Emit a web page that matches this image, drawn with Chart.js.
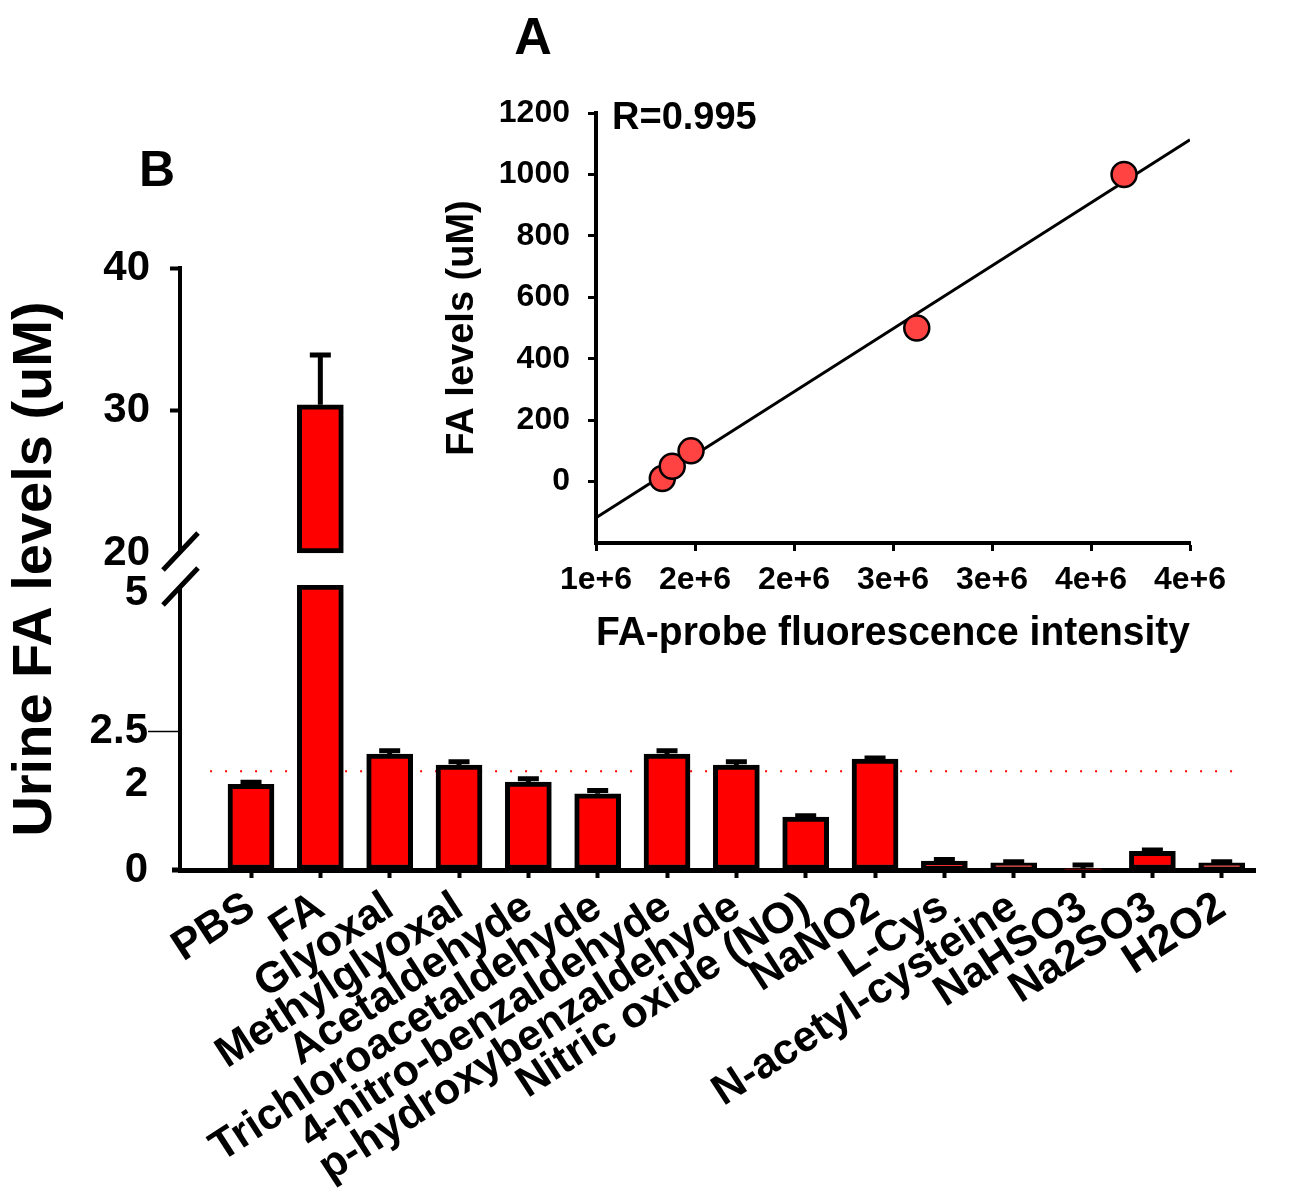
<!DOCTYPE html>
<html>
<head>
<meta charset="utf-8">
<title>Urine FA levels</title>
<script src="https://cdn.jsdelivr.net/npm/chart.js@4.4.1/dist/chart.umd.min.js"></script>
<style>
  html, body { margin: 0; padding: 0; background: #fff; }
  #wrap { position: relative; width: 1292px; height: 1198px; }
  #wrap canvas { position: absolute; left: 0; top: 0; }
</style>
</head>
<body>
<div id="wrap">
  <canvas id="chartB" width="1292" height="1198"></canvas>
  <canvas id="chartA" width="1292" height="1198"></canvas>
</div>
<script>
// panel B: urine FA per compound
var compounds = ['PBS', 'FA', 'Glyoxal', 'Methylglyoxal', 'Acetaldehyde', 'Trichloroacetaldehyde',
  '4-nitro-benzaldehyde', 'p-hydroxybenzaldehyde', 'Nitric oxide (NO)', 'NaNO2', 'L-Cys',
  'N-acetyl-cysteine', 'NaHSO3', 'Na2SO3', 'H2O2'];
var faLevels = [1.55, 30.4, 2.10, 1.90, 1.59, 1.38, 2.10, 1.90, 0.96, 2.01, 0.16, 0.13, 0.02, 0.34, 0.13];
var faErrors = [0.04, 3.5, 0.06, 0.06, 0.06, 0.06, 0.06, 0.06, 0.02, 0.02, 0.03, 0.02, 0.07, 0.02, 0.02];
var lowTicks = [0, 2, 2.5, 5];
var highTicks = [20, 30, 40];
var cutoff = 1.79;

// panel A: calibration against the probe
var probeIntensity = [1.335e6, 1.385e6, 1.48e6, 2.62e6, 3.667e6];
var faKnown = [10, 50, 100, 500, 1000];
var fitIntensity = [1.0e6, 4.0e6];
var fitLevels = [-118, 1113];
var intensityTicks = [1.0e6, 1.5e6, 2.0e6, 2.5e6, 3.0e6, 3.5e6, 4.0e6];
var intensityTickLabels = ['1e+6', '2e+6', '2e+6', '3e+6', '3e+6', '4e+6', '4e+6'];
var levelTicks = [0, 200, 400, 600, 800, 1000, 1200];

var FONT = "'Liberation Sans', Arial, sans-serif";
Chart.defaults.font.family = FONT;
Chart.defaults.color = '#000';

// broken axis limits
var LOW_MAX = 5.16, HIGH_MIN = 17.75, HIGH_MAX = 40, BREAK_AT = 20;

var lowerBars = faLevels.map(function (v, i) { return { x: i, y: Math.min(v, LOW_MAX) }; });
var upperBars = [];
faLevels.forEach(function (v, i) {
  if (v > LOW_MAX) upperBars.push({ x: i, y: [BREAK_AT, v] });
});

function fixedTicks(list) {
  return function (scale) { scale.ticks = list.map(function (v) { return { value: v }; }); };
}

var barExtras = {
  id: 'barExtras',
  afterDatasetsDraw: function (chart) {
    var ctx = chart.ctx, area = chart.chartArea;
    var hi = chart.scales.yHigh, lo = chart.scales.yLow, xs = chart.scales.x;
    ctx.save();
    ctx.strokeStyle = '#000';
    // error bars
    ctx.lineWidth = 5;
    faLevels.forEach(function (v, i) {
      var s = v > LOW_MAX ? hi : lo;
      var px = xs.getPixelForValue(i);
      var y0 = s.getPixelForValue(v);
      var y1 = s.getPixelForValue(v + faErrors[i]);
      ctx.beginPath();
      ctx.moveTo(px, y0);
      ctx.lineTo(px, y1);
      ctx.moveTo(px - 10.5, y1);
      ctx.lineTo(px + 10.5, y1);
      ctx.stroke();
    });
    // y axis with a break
    var ax = area.left;
    var yBreakHi = hi.getPixelForValue(BREAK_AT) - 1;
    var yBreakLo = lo.top + 2;
    ctx.lineWidth = 4;
    ctx.beginPath();
    ctx.moveTo(ax, hi.getPixelForValue(HIGH_MAX) - 2);
    ctx.lineTo(ax, yBreakHi);
    ctx.moveTo(ax, yBreakLo);
    ctx.lineTo(ax, area.bottom);
    ctx.stroke();
    ctx.lineWidth = 5;
    ctx.beginPath();
    ctx.moveTo(ax - 8, area.bottom);
    ctx.lineTo(ax, area.bottom);
    [yBreakHi, yBreakLo].forEach(function (yy) {
      ctx.moveTo(ax - 17, yy + 18);
      ctx.lineTo(ax + 18, yy - 19);
    });
    ctx.stroke();
    ctx.restore();
  },
  afterDraw: function (chart) {
    var ctx = chart.ctx;
    ctx.save();
    ctx.fillStyle = '#000';
    ctx.font = 'bold 50px ' + FONT;
    ctx.textAlign = 'center';
    ctx.textBaseline = 'middle';
    ctx.fillText('B', 157, 172);
    ctx.restore();
  }
};

var tickFontB = { size: 42, weight: 'bold' };

// the "2" label sits a little under its tick in the original figure
function lowLabel(v) { return v === 2 ? ['', '2'] : String(v); }

new Chart(document.getElementById('chartB'), {
  type: 'bar',
  data: {
    datasets: [
      { label: 'Urine FA', data: lowerBars, yAxisID: 'yLow' },
      { label: 'Urine FA (upper)', data: upperBars, yAxisID: 'yHigh' },
      {
        type: 'line', label: 'cut-off', yAxisID: 'yLow',
        data: [{ x: -0.59, y: cutoff }, { x: 14.3, y: cutoff }],
        borderColor: '#ff0000', borderWidth: 2, borderDash: [2, 13],
        pointRadius: 0, fill: false
      }
    ]
  },
  options: {
    responsive: false,
    animation: false,
    devicePixelRatio: 1,
    layout: { padding: { left: 2, top: 268, right: 37, bottom: 0 } },
    plugins: { legend: { display: false }, tooltip: { enabled: false } },
    datasets: {
      bar: {
        barThickness: 46, grouped: false, borderSkipped: false,
        borderWidth: 5, borderColor: '#000', backgroundColor: '#ff0000'
      }
    },
    scales: {
      x: {
        type: 'linear', min: -1.024, max: 14.48, offset: false,
        afterBuildTicks: function (s) { s.ticks = compounds.map(function (c, i) { return { value: i }; }); },
        afterFit: function (s) { s.height = 328; },
        border: { display: true, color: '#000', width: 5 },
        grid: { offset: false, drawOnChartArea: false, drawTicks: true, tickLength: 8, tickWidth: 4, tickColor: '#000' },
        ticks: {
          autoSkip: false, minRotation: 33, maxRotation: 33, padding: 4,
          font: { size: 43, weight: 'bold' },
          callback: function (v) { return compounds[v]; }
        }
      },
      yTitle: {
        type: 'linear', position: 'left', weight: 10,
        afterFit: function (s) { s.width = 70; },
        border: { display: false }, grid: { display: false }, ticks: { display: false },
        title: { display: true, text: 'Urine FA levels (uM)', padding: 0, font: { size: 56, weight: 'bold' } }
      },
      yHigh: {
        type: 'linear', position: 'left', stack: 'frame', stackWeight: 317, weight: 2,
        min: HIGH_MIN, max: HIGH_MAX,
        afterBuildTicks: fixedTicks(highTicks),
        afterFit: function (s) { s.width = 108; },
        border: { display: false },
        grid: {
          drawOnChartArea: false, drawTicks: true, tickLength: 10, tickWidth: 4,
          tickColor: function (c) { return c.tick && c.tick.value === BREAK_AT ? 'rgba(0,0,0,0)' : '#000'; }
        },
        ticks: { autoSkip: false, padding: 20, font: tickFontB, callback: function (v) { return String(v); } }
      },
      yLow: {
        type: 'linear', position: 'left', stack: 'frame', stackWeight: 285, weight: 1,
        min: 0, max: LOW_MAX,
        afterBuildTicks: fixedTicks(lowTicks),
        afterFit: function (s) { s.width = 108; },
        border: { display: false },
        grid: {
          drawOnChartArea: false, drawTicks: true, tickLength: 32, tickWidth: 1.5,
          tickColor: function (c) { return c.tick && c.tick.value === 2.5 ? '#000' : 'rgba(0,0,0,0)'; }
        },
        ticks: { autoSkip: false, padding: 0, font: tickFontB, callback: lowLabel }
      }
    }
  },
  plugins: [barExtras]
});

var calibText = {
  id: 'calibText',
  afterDraw: function (chart) {
    var ctx = chart.ctx, area = chart.chartArea;
    ctx.save();
    ctx.fillStyle = '#000';
    ctx.textBaseline = 'middle';
    ctx.font = 'bold 52px ' + FONT;
    ctx.textAlign = 'center';
    ctx.fillText('A', 533, 40);
    ctx.font = 'bold 38px ' + FONT;
    ctx.textAlign = 'left';
    ctx.fillText('R=0.995', area.left + 16, area.top + 6);
    ctx.restore();
  }
};

new Chart(document.getElementById('chartA'), {
  type: 'scatter',
  data: {
    datasets: [
      {
        label: 'standards',
        data: probeIntensity.map(function (x, i) { return { x: x, y: faKnown[i] }; }),
        pointRadius: 12.5, pointBackgroundColor: '#ff4242',
        pointBorderColor: '#000', pointBorderWidth: 2.5
      },
      {
        type: 'line', label: 'fit',
        data: fitIntensity.map(function (x, i) { return { x: x, y: fitLevels[i] }; }),
        borderColor: '#000', borderWidth: 3, pointRadius: 0, fill: false
      }
    ]
  },
  options: {
    responsive: false,
    animation: false,
    devicePixelRatio: 1,
    layout: { padding: { left: 440, top: 113, right: 102, bottom: 540 } },
    plugins: { legend: { display: false }, tooltip: { enabled: false } },
    scales: {
      x: {
        type: 'linear', min: 1.0e6, max: 4.0e6,
        afterBuildTicks: fixedTicks(intensityTicks),
        afterFit: function (s) { s.height = 115; },
        border: { color: '#000', width: 4 },
        grid: { drawOnChartArea: false, tickLength: 8, tickWidth: 3, tickColor: '#000' },
        ticks: {
          padding: 10, font: { size: 32, weight: 'bold' },
          callback: function (v, i) { return intensityTickLabels[i]; }
        },
        title: { display: true, text: 'FA-probe fluorescence intensity', padding: 0, font: { size: 41, weight: 'bold' } }
      },
      y: {
        type: 'linear', min: -200, max: 1200,
        afterBuildTicks: fixedTicks(levelTicks),
        afterFit: function (s) { s.width = 156; },
        border: { color: '#000', width: 4 },
        grid: { drawOnChartArea: false, tickLength: 8, tickWidth: 3, tickColor: '#000' },
        ticks: { padding: 18, font: { size: 32, weight: 'bold' }, callback: function (v) { return String(v); } },
        title: { display: true, text: 'FA levels (uM)', padding: 0, font: { size: 38, weight: 'bold' } }
      }
    }
  },
  plugins: [calibText]
});
</script>
</body>
</html>
